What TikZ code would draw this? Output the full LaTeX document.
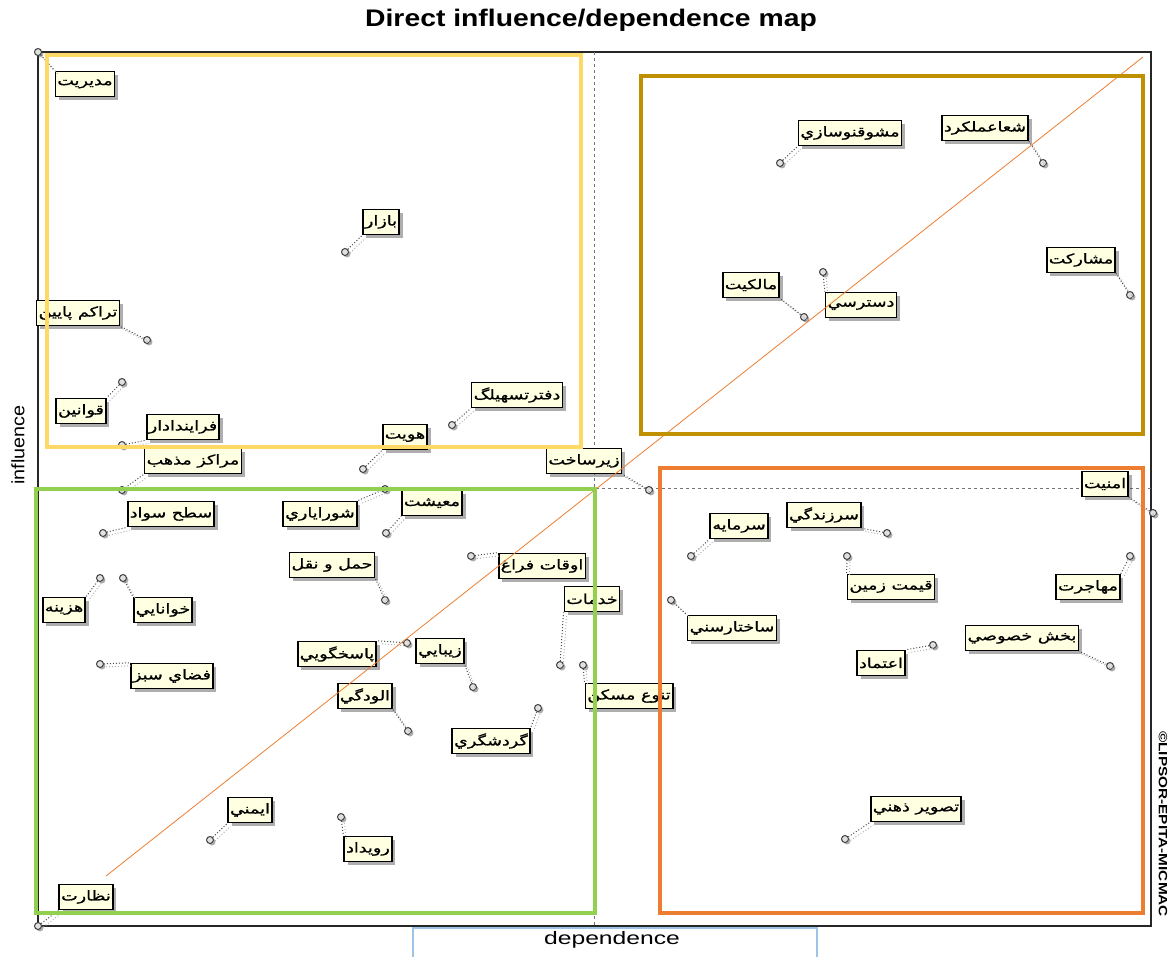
\documentclass[tikz,border=0pt]{standalone}
\usepackage{fontspec}
\setmainfont{Liberation Sans}
\newfontfamily\arabicfont[Script=Arabic,FakeBold=0.8]{DejaVu Sans}
\TeXXeTstate=1
\usetikzlibrary{shadows}

\definecolor{labelfill}{HTML}{FFFFE1}
\definecolor{qyellow}{HTML}{FFD966}
\definecolor{qgold}{HTML}{BF9000}
\definecolor{qgreen}{HTML}{92D050}
\definecolor{qorange}{HTML}{ED7D31}
\definecolor{qblue}{HTML}{9DC3E6}

\tikzset{
  lbl/.style={draw=black, line width=1.6pt, fill=labelfill, inner xsep=2pt,
    inner ysep=0pt, minimum height=25pt, font=\arabicfont\fontsize{13.5}{13.5}\selectfont,
    drop shadow={shadow xshift=3.5pt, shadow yshift=-3.5pt, opacity=0.45, fill=black!70}},
  pt/.style={circle, draw=black!75, fill=black!12, line width=1pt, inner sep=0pt,
    minimum size=7pt,
    drop shadow={shadow xshift=2pt, shadow yshift=-2pt, opacity=0.45, fill=black!70}},
  conn/.style={draw=black!70, dotted, line width=1pt},
  connshadow/.style={draw=black!30, dotted, line width=1pt},
  quadrant/.style={line width=4.5pt},
  guide/.style={draw=black!55, dashed, line width=0.6pt},
}

% name, x, y, text, point x, point y, box anchor reached by the connector
\newcommand\plotlabel[7]{%
  \node[lbl] (#1) at (#2,#3) {\scalebox{1.3}[1]{#4}};
  \node[pt] (#1p) at (#5,#6) {};
  \draw[connshadow] ([shift={(3,3)}]#1p.center) -- ([shift={(3,3)}]#1.#7);
  \draw[conn] (#1p) -- (#1.#7);
}

\begin{document}
\begin{tikzpicture}[x=1pt,y=-1pt]
\useasboundingbox (0,0) rectangle (1175,956);

% title and axis captions
\node[font=\bfseries\fontsize{24}{24}\selectfont] (title) at (591,20) {\scalebox{1.18}[1]{Direct influence/dependence map}};
\node[rotate=90, font=\fontsize{18}{18}\selectfont] (infl) at (18,445) {\scalebox{1.1}[1]{influence}};
\node[rotate=-90, font=\bfseries\fontsize{12}{12}\selectfont] (copy) at (1163,824) {\scalebox{1.28}[1]{©LIPSOR-EPITA-MICMAC}};

% plot frame and mean lines
\draw[black!85, line width=1.3pt] (38,52) rectangle (1151,926);
\draw[guide] (594,52) -- (594,926);
\draw[guide] (38,488) -- (1151,488);

% variables
\plotlabel{v1}{85}{84}{\beginR مديريت\endR}{38}{52}{north west}
\plotlabel{v2}{381}{222}{\beginR بازار\endR}{345}{252}{south west}
\plotlabel{v3}{78}{313}{\beginR تراكم پايين\endR}{147}{340}{south east}
\plotlabel{v4}{81}{411}{\beginR قوانين\endR}{122}{382}{north east}
\plotlabel{v5}{183}{427}{\beginR فرايندادار\endR}{122}{445}{south west}
\plotlabel{v6}{193}{461}{\beginR مراكز مذهب\endR}{122}{490}{south west}
\plotlabel{v7}{171}{514}{\beginR سطح سواد\endR}{103}{533}{south west}
\plotlabel{v8}{64}{610}{\beginR هزينه\endR}{100}{578}{north east}
\plotlabel{v9}{163}{610}{\beginR خوانايي\endR}{123}{578}{north west}
\plotlabel{v10}{172}{676}{\beginR فضاي سبز\endR}{100}{664}{north west}
\plotlabel{v11}{86}{897}{\beginR نظارت\endR}{38}{926}{south west}
\plotlabel{v12}{250}{810}{\beginR ايمني\endR}{210}{840}{south west}
\plotlabel{v13}{368}{849}{\beginR رويداد\endR}{341}{817}{north west}
\plotlabel{v14}{405}{437}{\beginR هويت\endR}{363}{469}{south west}
\plotlabel{v15}{517}{395}{\beginR دفترتسهيلگ\endR}{452}{425}{south west}
\plotlabel{v16}{584}{461}{\beginR زيرساخت\endR}{649}{490}{south east}
\plotlabel{v17}{320}{514}{\beginR شوراياري\endR}{385}{489}{north east}
\plotlabel{v18}{432}{503}{\beginR معيشت\endR}{386}{533}{south west}
\plotlabel{v19}{332}{565}{\beginR حمل و نقل\endR}{385}{600}{south east}
\plotlabel{v20}{542}{566}{\beginR اوقات فراغ\endR}{471}{556}{north west}
\plotlabel{v21}{592}{599}{\beginR خدمات\endR}{560}{665}{south west}
\plotlabel{v22}{337}{654}{\beginR پاسخگويي\endR}{407}{643}{north east}
\plotlabel{v23}{440}{651}{\beginR زيبايي\endR}{473}{687}{south east}
\plotlabel{v24}{365}{696}{\beginR الودگي\endR}{408}{731}{south east}
\plotlabel{v25}{491}{741}{\beginR گردشگري\endR}{538}{708}{north east}
\plotlabel{v26}{629}{696}{\beginR تنوع مسكن\endR}{583}{665}{north west}
\plotlabel{v27}{850}{133}{\beginR مشوقنوسازي\endR}{780}{163}{south west}
\plotlabel{v28}{985}{128}{\beginR شعاعملكرد\endR}{1043}{163}{south east}
\plotlabel{v29}{1081}{260}{\beginR مشاركت\endR}{1130}{295}{south east}
\plotlabel{v30}{751}{285}{\beginR مالكيت\endR}{804}{317}{south east}
\plotlabel{v31}{861}{305}{\beginR دسترسي\endR}{823}{272}{north west}
\plotlabel{v32}{1105}{484}{\beginR امنيت\endR}{1153}{513}{south east}
\plotlabel{v33}{739}{526}{\beginR سرمايه\endR}{691}{556}{south west}
\plotlabel{v34}{824}{515}{\beginR سرزندگي\endR}{887}{533}{south east}
\plotlabel{v35}{891}{587}{\beginR قيمت زمين\endR}{847}{556}{north west}
\plotlabel{v36}{1088}{587}{\beginR مهاجرت\endR}{1130}{556}{north east}
\plotlabel{v37}{732}{628}{\beginR ساختارسني\endR}{671}{600}{north west}
\plotlabel{v38}{1022}{638}{\beginR بخش خصوصي\endR}{1110}{666}{south east}
\plotlabel{v39}{881}{663}{\beginR اعتماد\endR}{933}{645}{north east}
\plotlabel{v40}{916}{809}{\beginR تصوير ذهني\endR}{845}{839}{south west}

% diagonal
\draw[qorange, line width=0.8pt] (106,876) -- (1143,57);

% quadrant frames
\draw[quadrant, qyellow] (47,55) rectangle (581,447);
\draw[quadrant, qgold] (641,76) rectangle (1143,434);
\draw[quadrant, qgreen] (36,489) rectangle (595,913);
\draw[quadrant, qorange] (660,468) rectangle (1143,913);

% axis caption box
\fill[white] (413,928) rectangle (817,960);
\draw[qblue, line width=2.5pt] (413,962) -- (413,928) -- (817,928) -- (817,962);
\node[font=\fontsize{18}{18}\selectfont] (dep) at (612,940) {\scalebox{1.37}[1]{dependence}};
\end{tikzpicture}
\end{document}
